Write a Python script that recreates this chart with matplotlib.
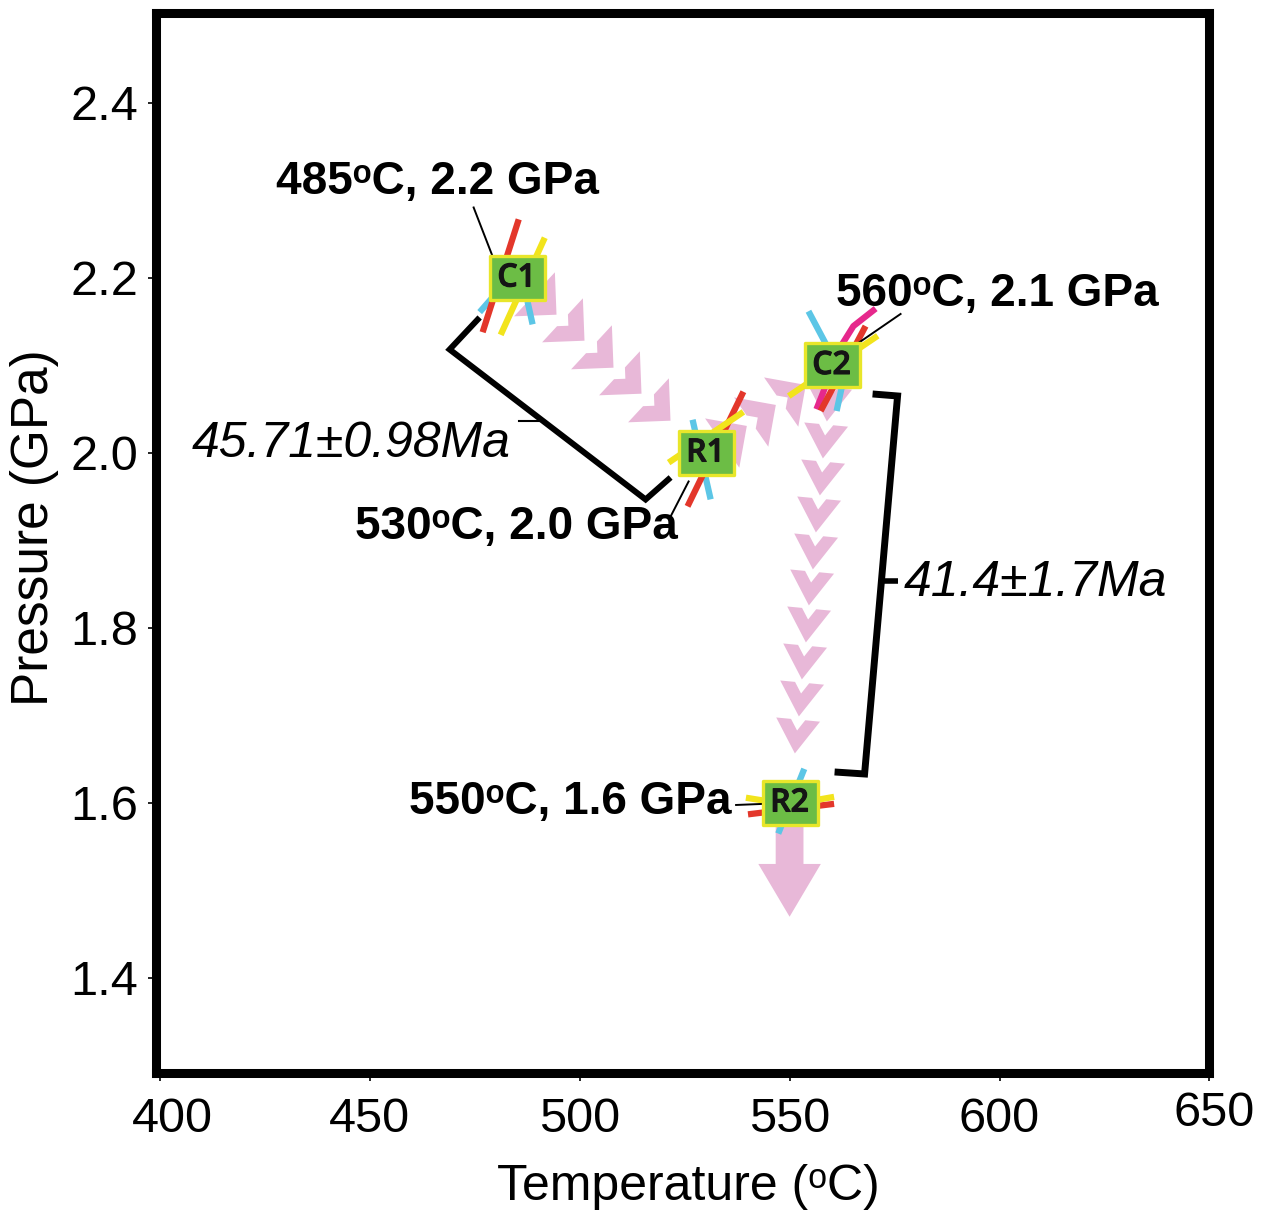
import numpy as np
import matplotlib
matplotlib.use("Agg")
import matplotlib.pyplot as plt
import matplotlib.patheffects as pe
from matplotlib.path import Path
from matplotlib.markers import MarkerStyle
from matplotlib.transforms import Affine2D, ScaledTranslation

plt.rcParams["font.family"] = ["Liberation Sans", "DejaVu Sans"]

# ---- P-T path stations -------------------------------------------------
stations = ["C1", "R1", "C2", "R2"]
temps_c = [485, 530, 560, 550]
press_gpa = [2.2, 2.0, 2.1, 1.6]
# end of the decompression arrow
arrow_end_t = 550
arrow_end_p = 1.47

ages = ["45.71±0.98Ma", "41.4±1.7Ma"]

x_ticks = [400, 450, 500, 550, 600, 650]
y_ticks = [1.4, 1.6, 1.8, 2.0, 2.2, 2.4]

# reaction-line segments through each station, (dT degC, dP GPa) from the station
c1_red = [(0.5, 0.067), (-8.1, -0.062)]
c1_yellow = [(6.7, 0.046), (-3.8, -0.065)]
c1_cyan_a = [(-5.7, -0.022), (-8.8, -0.039)]
c1_cyan_b = [(2.6, -0.027), (3.8, -0.053)]

r1_red = [(9.0, 0.070), (-4.3, -0.061)]
r1_yellow = [(9.0, 0.047), (-8.8, -0.011)]
r1_cyan = [(-3.1, 0.038), (1.2, -0.053)]

c2_magenta = [(10.5, 0.065), (5.2, 0.045), (2.6, 0.025), (-3.6, -0.050)]
c2_red = [(8.1, 0.045), (-2.6, -0.052)]
c2_yellow = [(11.0, 0.034), (-10.2, -0.035)]
c2_cyan = [(-5.5, 0.062), (-1.4, 0.025), (2.6, -0.021), (1.2, -0.052)]

r2_yellow = [(-10.4, 0.006), (0.0, -0.002), (10.6, 0.007)]
r2_red = [(-9.9, -0.013), (10.6, -0.001)]
r2_cyan = [(3.5, 0.039), (-2.7, -0.035)]

RED = "#e3372b"
YEL = "#f2e41c"
CYA = "#5cc6e6"
MAG = "#e6288c"
PINK = "#e8b8d8"
GREEN = "#6cbd45"
BOXEDGE = "#e8e62a"
DEG = "\u1d52"  # raised small o used for the degree sign

W, H = 1270, 1215
fig = plt.figure(figsize=(W / 100, H / 100), dpi=100)
left, right, top, bottom = 155.5, 1209.5, 12.5, 1073.0
ax = fig.add_axes([left / W, 1 - bottom / H, (right - left) / W, (bottom - top) / H])
ax.set_xlim(399, 650)
ax.set_ylim(1.2914, 2.5034)
ax.set_xticks(x_ticks)
ax.set_yticks(y_ticks)
ax.set_xticklabels([str(v) for v in x_ticks])
ax.set_yticklabels([f"{v:.1f}" for v in y_ticks])
ax.tick_params(direction="out", length=5.5, width=1.2, labelsize=35)
ax.tick_params(axis="x", pad=12)
ax.tick_params(axis="y", pad=7)
for s in ax.spines.values():
    s.set_linewidth(6.5)

# nudge the end labels of the temperature axis
xlabels = ax.get_xticklabels()
xlabels[0].set_transform(xlabels[0].get_transform()
                         + ScaledTranslation(0.13, 0, fig.dpi_scale_trans))
xlabels[-1].set_transform(xlabels[-1].get_transform()
                          + ScaledTranslation(0.05, 0.06, fig.dpi_scale_trans))

fig.text(35 / W, 1 - 528 / H, "Pressure (GPa)", rotation=90, ha="center",
         va="center", fontsize=37)
fig.text(688 / W, 1 - 1187 / H, f"Temperature ({DEG}C)", ha="center",
         va="center", fontsize=36)


def to_px(t, p):
    x, y = ax.transData.transform((t, p))
    return np.array([x, H - y])


def from_px(pts):
    pts = np.atleast_2d(np.asarray(pts, dtype=float))
    d = np.column_stack([pts[:, 0], H - pts[:, 1]])
    return ax.transData.inverted().transform(d)


def chevron(hw, d, t):
    inner = hw * (1 - t / d)
    verts = [(-d / 2, hw), (d / 2, 0), (-d / 2, -hw), (-d / 2, -inner),
             (d / 2 - t, 0), (-d / 2, inner), (-d / 2, hw)]
    codes = [Path.MOVETO] + [Path.LINETO] * 5 + [Path.CLOSEPOLY]
    return Path(verts, codes), max(hw, d / 2)


def chevron_run(i0, i1, start, gap_end, step, shape):
    a = ax.transData.transform((temps_c[i0], press_gpa[i0]))
    b = ax.transData.transform((temps_c[i1], press_gpa[i1]))
    v = b - a
    L = np.hypot(*v)
    u = v / L
    ang = np.degrees(np.arctan2(v[1], v[0]))
    dists = np.arange(start, L - gap_end + 1e-6, step)
    pts = ax.transData.inverted().transform(a + np.outer(dists, u))
    path, ext = shape
    m = MarkerStyle(path, transform=Affine2D().rotate_deg(ang))
    ax.plot(pts[:, 0], pts[:, 1], ls="none", marker=m, ms=2 * ext * 0.72,
            mfc=PINK, mec="none", mew=0, zorder=2)


# chevron arrows along the P-T path
diag = chevron(30, 30, 22)
vert = chevron(22, 34, 23)
chevron_run(0, 1, 38, 27, 39, diag)
chevron_run(1, 2, 34, 26, 36, diag)
chevron_run(2, 3, 39, 37, 37, vert)

# final decompression arrow
ax.annotate("", xy=(arrow_end_t, arrow_end_p), xytext=(temps_c[3], press_gpa[3]),
            arrowprops=dict(arrowstyle="simple,head_length=3.8,head_width=4.5,tail_width=2.0",
                            mutation_scale=10, color=PINK, lw=0, shrinkA=0, shrinkB=0),
            zorder=2, annotation_clip=False)

# reaction lines at the stations
station_lines = [
    [(c1_cyan_a, CYA), (c1_cyan_b, CYA), (c1_red, RED), (c1_yellow, YEL)],
    [(r1_cyan, CYA), (r1_red, RED), (r1_yellow, YEL)],
    [(c2_cyan, CYA), (c2_magenta, MAG), (c2_red, RED), (c2_yellow, YEL)],
    [(r2_cyan, CYA), (r2_red, RED), (r2_yellow, YEL)],
]
for i, group in enumerate(station_lines):
    for seg, col in group:
        seg = np.array(seg)
        ax.plot(temps_c[i] + seg[:, 0], press_gpa[i] + seg[:, 1], color=col,
                lw=4.5, solid_capstyle="butt", zorder=4)

# station boxes
rect = Path([(-27.5, -22), (27.5, -22), (27.5, 22), (-27.5, 22), (-27.5, -22)],
            [Path.MOVETO, Path.LINETO, Path.LINETO, Path.LINETO, Path.CLOSEPOLY])
ax.plot(temps_c, press_gpa, ls="none", marker=MarkerStyle(rect), ms=2 * 27.5 * 0.72,
        mfc=GREEN, mec=BOXEDGE, mew=2.4, zorder=6)
for name, t, p in zip(stations, temps_c, press_gpa):
    ax.text(t, p, name, ha="center", va="center", fontsize=23,
            family=["Open Sans", "DejaVu Sans"], fontweight="semibold",
            color="#151515", zorder=7,
            path_effects=[pe.withStroke(linewidth=0.8, foreground="#151515")])

# P-T labels with leader lines
pos = [to_px(t, p) for t, p in zip(temps_c, press_gpa)]
label_specs = [
    # text offset, alignment, leader start, leader end (pixels from station)
    ((-79, -95.5), "center", (-43, -70.5), (-24, -21.5)),
    ((-28, 74.5), "right", (-17, 28.5), (-35, 63.5)),
    ((4, -71.5), "left", (69, -51.5), (21, -18.5)),
    ((-58.5, -1), "right", (-53.5, 2), (-28.5, 1)),
]
for i, (toff, ha, l0, l1) in enumerate(label_specs):
    txt = f"{temps_c[i]}{DEG}C, {press_gpa[i]:.1f} GPa"
    tp = from_px(pos[i] + np.array(toff))[0]
    ax.text(tp[0], tp[1], txt, ha=ha, va="center", fontsize=33,
            fontweight="bold", zorder=8)
    lp = from_px([pos[i] + np.array(l0), pos[i] + np.array(l1)])
    ax.plot(lp[:, 0], lp[:, 1], color="k", lw=1.4, zorder=5)

# age bracket between C1 and R1
c1, r1, c2, r2 = pos
b1 = np.array([c1 + (-37, 39.5), c1 + (-67, 71.5), r1 + (-60, 46.5), r1 + (-35, 24.5)])
bp = from_px(b1)
ax.plot(bp[:, 0], bp[:, 1], color="k", lw=4.3, solid_joinstyle="miter",
        solid_capstyle="butt", zorder=5)
mid1 = b1[1] + 0.48 * (b1[2] - b1[1])
tick1 = np.array([mid1, mid1 + (-25, 0)])
tp1 = from_px(tick1)
ax.plot(tp1[:, 0], tp1[:, 1], color="k", lw=1.5, zorder=5)
a1 = from_px(tick1[1] + (-8, 23))[0]
ax.text(a1[0], a1[1], ages[0], ha="right", va="center", fontsize=36,
        style="italic", zorder=8)

# age bracket between C2 and R2
b2 = np.array([c2 + (41, 28.5), [c2[0] + 66, c2[1] + 30.5],
               [r2[0] + 75, r2[1] - 29], r2 + (45, -31)])
bp2 = from_px(b2)
ax.plot(bp2[:, 0], bp2[:, 1], color="k", lw=5.0, solid_joinstyle="miter",
        solid_capstyle="butt", zorder=5)
mid2 = b2[1] + 0.49 * (b2[2] - b2[1])
tick2 = np.array([mid2, mid2 + (17, 0)])
tp2 = from_px(tick2)
ax.plot(tp2[:, 0], tp2[:, 1], color="k", lw=4.0, solid_capstyle="butt", zorder=5)
a2 = from_px(tick2[1] + (5, 2))[0]
ax.text(a2[0], a2[1], ages[1], ha="left", va="center", fontsize=36,
        style="italic", zorder=8)

fig.savefig("out.png", dpi=100)
